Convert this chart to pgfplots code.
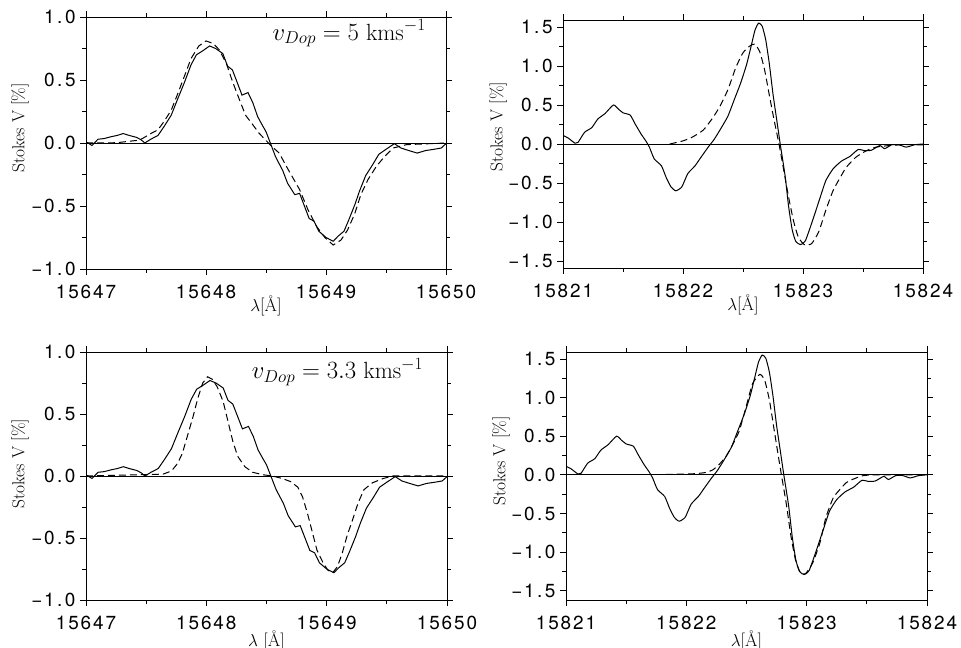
\documentclass[border=0pt]{standalone}
\usepackage{fontspec}
\usepackage{pgfplots}
\pgfplotsset{compat=1.18}
\usepackage{pgfplotstable}
\newfontfamily\tickfont[LetterSpace=10]{TeX Gyre Heros}
\newcommand{\pt}{\kern2.5bp.\kern2.5bp}

\pgfplotstableread{
x y
15647.00 0.01
15647.05 -0.02
15647.10 0.03
15647.15 0.035
15647.21 0.05
15647.26 0.06
15647.31 0.075
15647.36 0.06
15647.42 0.045
15647.46 0.025
15647.49 0.0
15647.54 0.03
15647.60 0.06
15647.65 0.13
15647.71 0.22
15647.76 0.34
15647.82 0.48
15647.875 0.62
15647.92 0.70
15647.97 0.73
15648.03 0.77
15648.08 0.75
15648.14 0.71
15648.18 0.61
15648.22 0.58
15648.26 0.48
15648.30 0.38
15648.35 0.40
15648.39 0.32
15648.43 0.21
15648.47 0.14
15648.50 0.09
15648.54 -0.01
15648.58 -0.11
15648.64 -0.22
15648.68 -0.32
15648.74 -0.41
15648.78 -0.40
15648.82 -0.50
15648.86 -0.60
15648.90 -0.62
15648.94 -0.70
15649.00 -0.75
15649.06 -0.78
15649.10 -0.74
15649.15 -0.70
15649.19 -0.61
15649.24 -0.49
15649.28 -0.38
15649.33 -0.26
15649.39 -0.17
15649.44 -0.09
15649.50 -0.05
15649.57 -0.005
15649.625 -0.04
15649.69 -0.06
15649.76 -0.08
15649.83 -0.06
15649.90 -0.05
15649.96 -0.04
15650.00 -0.005
}\solidA

\pgfplotstableread{
x y
15647.00 0.0
15647.20 0.0
15647.28 0.005
15647.42 0.02
15647.47 0.035
15647.53 0.07
15647.60 0.105
15647.65 0.17
15647.71 0.26
15647.76 0.38
15647.82 0.53
15647.875 0.67
15647.94 0.77
15648.00 0.81
15648.06 0.79
15648.11 0.74
15648.17 0.63
15648.22 0.49
15648.28 0.34
15648.33 0.22
15648.39 0.145
15648.44 0.08
15648.50 0.02
15648.54 -0.02
15648.61 -0.08
15648.69 -0.22
15648.78 -0.37
15648.85 -0.53
15648.92 -0.66
15648.99 -0.75
15649.06 -0.81
15649.125 -0.77
15649.18 -0.69
15649.24 -0.56
15649.29 -0.41
15649.35 -0.29
15649.42 -0.185
15649.49 -0.105
15649.56 -0.04
15649.67 -0.013
15649.80 -0.008
15650.00 0.0
}\dashA

\pgfplotstableread{
x y
15647.00 0.0
15647.64 0.015
15647.71 0.04
15647.76 0.10
15647.80 0.18
15647.845 0.33
15647.89 0.48
15647.93 0.63
15647.97 0.75
15648.01 0.80
15648.05 0.78
15648.09 0.72
15648.14 0.60
15648.18 0.44
15648.22 0.28
15648.26 0.16
15648.32 0.075
15648.385 0.03
15648.47 0.01
15648.55 0.0
15648.63 -0.02
15648.70 -0.045
15648.76 -0.09
15648.80 -0.17
15648.84 -0.30
15648.88 -0.45
15648.92 -0.60
15648.97 -0.70
15649.01 -0.76
15649.05 -0.78
15649.09 -0.73
15649.13 -0.62
15649.17 -0.48
15649.22 -0.34
15649.26 -0.22
15649.31 -0.11
15649.38 -0.055
15649.47 -0.02
15649.55 0.0
15650.00 0.0
}\dashC

\pgfplotstableread{
x y
15821.00 0.11
15821.04 0.08
15821.10 0.01
15821.125 0.02
15821.18 0.15
15821.24 0.21
15821.29 0.32
15821.35 0.39
15821.42 0.50
15821.46 0.45
15821.50 0.40
15821.56 0.37
15821.60 0.26
15821.65 0.13
15821.69 0.04
15821.72 -0.04
15821.76 -0.19
15821.82 -0.28
15821.86 -0.43
15821.90 -0.55
15821.94 -0.60
15821.99 -0.55
15822.04 -0.38
15822.10 -0.28
15822.15 -0.17
15822.21 -0.04
15822.26 0.06
15822.32 0.21
15822.375 0.36
15822.43 0.58
15822.48 0.78
15822.53 1.02
15822.57 1.27
15822.60 1.46
15822.63 1.55
15822.66 1.51
15822.69 1.33
15822.72 1.02
15822.75 0.64
15822.78 0.32
15822.81 0.0
15822.85 -0.40
15822.88 -0.80
15822.91 -1.10
15822.94 -1.25
15822.98 -1.29
15823.02 -1.24
15823.08 -0.98
15823.14 -0.70
15823.19 -0.47
15823.25 -0.32
15823.32 -0.22
15823.39 -0.16
15823.46 -0.07
15823.51 -0.085
15823.57 -0.08
15823.64 -0.02
15823.68 -0.06
15823.74 -0.01
15823.80 -0.01
15823.86 -0.04
15823.93 -0.01
15824.00 0.0
}\solidB

\pgfplotstableread{
x y
15821.89 0.0
15822.00 0.04
15822.08 0.09
15822.17 0.18
15822.25 0.34
15822.31 0.49
15822.375 0.70
15822.44 0.98
15822.50 1.17
15822.56 1.26
15822.60 1.28
15822.64 1.18
15822.68 0.95
15822.72 0.62
15822.76 0.30
15822.80 0.0
15822.84 -0.34
15822.88 -0.68
15822.92 -0.98
15822.96 -1.19
15823.01 -1.29
15823.07 -1.28
15823.13 -1.13
15823.19 -0.85
15823.25 -0.60
15823.31 -0.43
15823.36 -0.30
15823.44 -0.17
15823.53 -0.085
15823.61 -0.04
15823.72 -0.02
15823.83 -0.01
15824.00 -0.01
}\dashB

\pgfplotstableread{
x y
15821.83 0.005
15822.05 0.013
15822.16 0.03
15822.22 0.065
15822.27 0.13
15822.33 0.24
15822.385 0.39
15822.44 0.57
15822.50 0.90
15822.55 1.18
15822.61 1.30
15822.65 1.23
15822.69 0.97
15822.73 0.58
15822.77 0.19
15822.79 0.0
15822.83 -0.37
15822.87 -0.80
15822.91 -1.12
15822.95 -1.27
15822.99 -1.28
15823.05 -1.14
15823.11 -0.88
15823.16 -0.55
15823.22 -0.30
15823.27 -0.20
15823.33 -0.10
15823.38 -0.06
15823.47 -0.01
15823.60 0.0
15824.00 0.0
}\dashD

\pgfplotsset{
  panel/.style={
    scale only axis, anchor=south west,
    scaled x ticks=false, scaled y ticks=false,
    axis line style={line width=0.8bp},
    tick align=outside,
    major tick length=6bp, minor tick length=4bp,
    every tick/.style={line width=0.8bp, black},
    minor x tick num=1, minor y tick num=1,
    tick label style={font=\tickfont\fontsize{19}{19}\selectfont},
    xticklabel style={yshift=-7bp},
    yticklabel style={xshift=-1bp},
    ylabel={Stokes V [\%]},
    every axis y label/.style={at={(axis description cs:-0.183,0.56)}, rotate=90, anchor=center, font=\fontsize{17.5}{19}\selectfont},
    every axis x label/.style={at={(axis description cs:0.5,0)}, anchor=base, yshift=-43bp, font=\fontsize{18}{19}\selectfont},
  },
  leftp/.style={panel, xmin=15647, xmax=15650, ymin=-1, ymax=1,
    xtick={15647,15648,15649,15650}, xticklabels={15647,15648,15649,15650},
    ytick={-1,-0.5,0,0.5,1}, yticklabels={−1\pt0,−0\pt5,0\pt0,0\pt5,1\pt0}},
  rightp/.style={panel, xmin=15821, xmax=15824, ymin=-1.59, ymax=1.59,
    xtick={15821,15822,15823,15824}, xticklabels={15821,15822,15823,15824},
    ytick={-1.5,-1,-0.5,0,0.5,1,1.5}, yticklabels={−1\pt5,−1\pt0,−0\pt5,0\pt0,0\pt5,1\pt0,1\pt5}},
  solid curve/.style={black, line width=1bp},
  dash curve/.style={black, line width=1bp, dash pattern=on 7bp off 4bp},
  smooth curve/.style={smooth, tension=0.35},
}

\begin{document}
\begin{tikzpicture}
\useasboundingbox (0,0) rectangle (961bp,648bp);

% top left
\begin{axis}[leftp, at={(86bp,379bp)}, width=360bp, height=252bp, xlabel={$\lambda$[\AA]}]
\addplot[black, line width=0.8bp] coordinates {(15647,0) (15650,0)};
\addplot[solid curve] table {\solidA};
\addplot[dash curve] table {\dashA};
\node[anchor=east, font=\fontsize{23.5}{26}\selectfont] at (axis cs:15649.86,0.87) {$v_{Dop} = 5\ \mathrm{kms}^{-1}$};
\end{axis}

% top right
\begin{axis}[rightp, at={(563bp,380bp)}, width=360bp, height=248bp, xlabel={$\lambda$[\AA]}, every axis y label/.append style={at={(axis description cs:-0.18,0.57)}}]
\addplot[black, line width=0.8bp] coordinates {(15821,0) (15824,0)};
\addplot[solid curve, smooth curve] table {\solidB};
\addplot[dash curve, smooth curve] table {\dashB};
\end{axis}

% bottom left
\begin{axis}[leftp, at={(86bp,48bp)}, width=361bp, height=248bp, xlabel={$\lambda$ [\AA]}, every axis x label/.append style={yshift=-3bp}, every axis y label/.append style={at={(axis description cs:-0.183,0.55)}}]
\addplot[black, line width=0.8bp] coordinates {(15647,0) (15650,0)};
\addplot[solid curve] table {\solidA};
\addplot[dash curve] table {\dashC};
\node[anchor=east, font=\fontsize{23.5}{26}\selectfont] at (axis cs:15649.83,0.84) {$v_{Dop} = 3.3\ \mathrm{kms}^{-1}$};
\end{axis}

% bottom right
\begin{axis}[rightp, at={(566bp,48bp)}, width=361bp, height=248bp, ymin=-1.62, xlabel={$\lambda$[\AA]}, every axis x label/.append style={yshift=-3bp}, every axis y label/.append style={at={(axis description cs:-0.18,0.56)}}]
\addplot[black, line width=0.8bp] coordinates {(15821,0) (15824,0)};
\addplot[solid curve, smooth curve] table {\solidB};
\addplot[dash curve, smooth curve] table {\dashD};
\end{axis}
\end{tikzpicture}
\end{document}
